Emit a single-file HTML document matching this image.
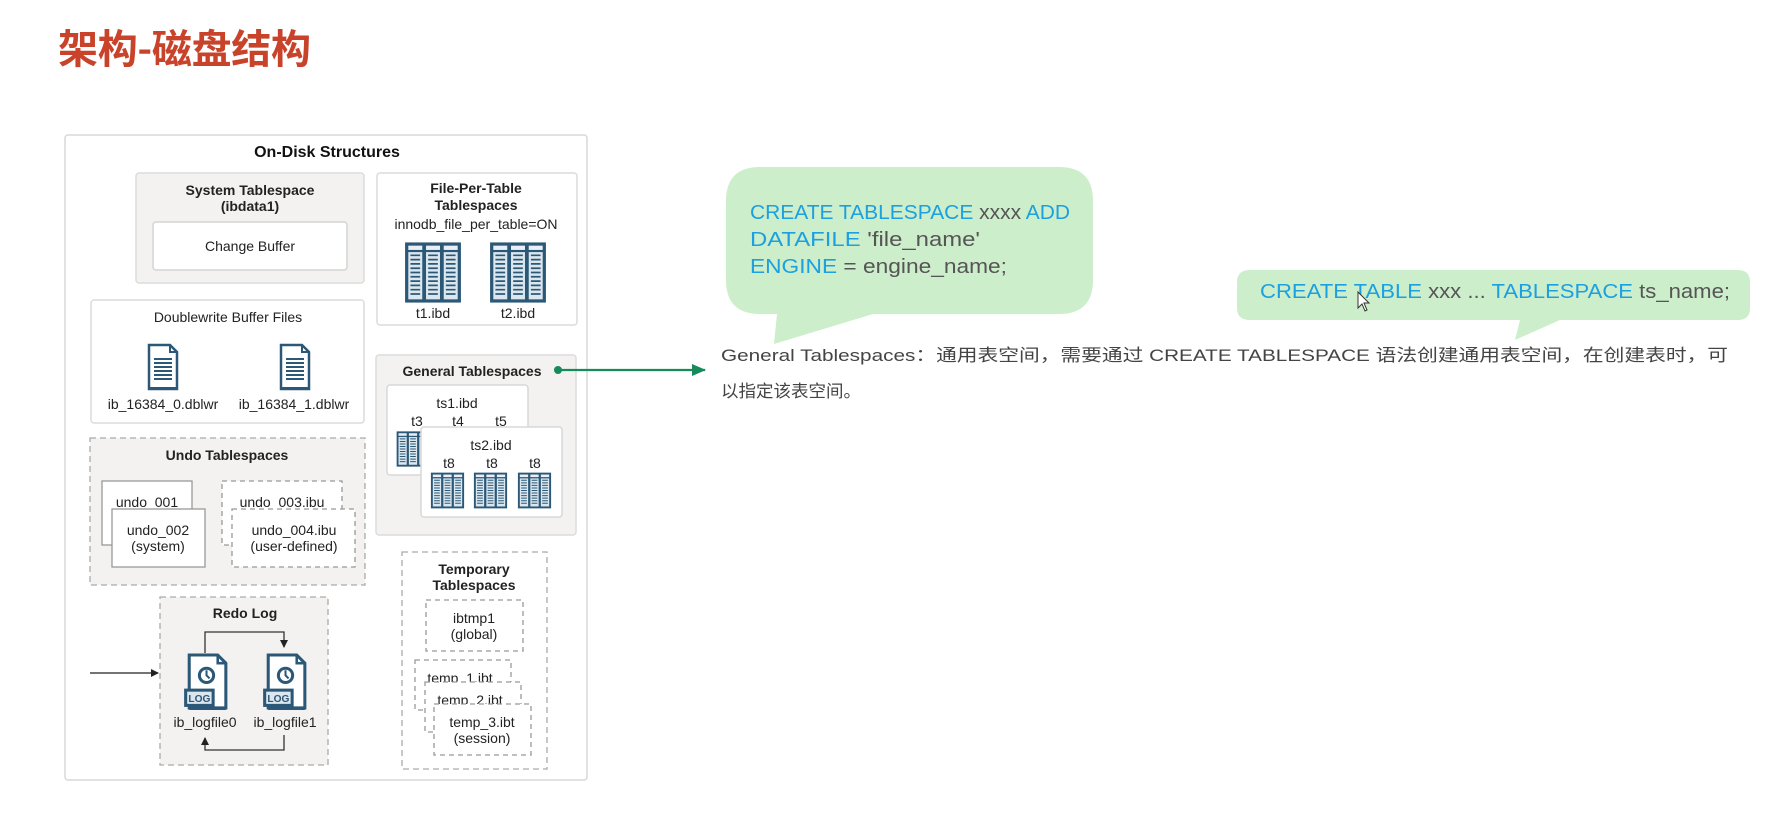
<!DOCTYPE html>
<html><head><meta charset="utf-8">
<style>
html,body{margin:0;padding:0;background:#fff;}
body{width:1768px;height:810px;overflow:hidden;position:relative;}
svg text{font-family:"Liberation Sans","Noto Sans CJK SC",sans-serif;}
</style></head>
<body>
<svg width="1768" height="810" viewBox="0 0 1768 810" xmlns="http://www.w3.org/2000/svg">
<defs>
  <symbol id="tbl" viewBox="0 0 54 58">
    <rect x="1" y="1" width="52" height="56" fill="#2b5877"/>
    <g fill="#e9eff4">
      <rect x="4" y="4" width="13" height="4"/><rect x="20.5" y="4" width="13" height="4"/><rect x="37" y="4" width="13" height="4"/>
    </g>
    <g fill="#dbe6ee">
      <rect x="4" y="10" width="13" height="44"/><rect x="20.5" y="10" width="13" height="44"/><rect x="37" y="10" width="13" height="44"/>
    </g>
    <g stroke="#2b5877" stroke-width="1.6">
      <path d="M6 13H15M6 17H15M6 21H15M6 25H15M6 29H15M6 33H15M6 37H15M6 41H15M6 45H15M6 49H15"/>
      <path d="M22.5 13H31.5M22.5 17H31.5M22.5 21H31.5M22.5 25H31.5M22.5 29H31.5M22.5 33H31.5M22.5 37H31.5M22.5 41H31.5M22.5 45H31.5M22.5 49H31.5"/>
      <path d="M39 13H48M39 17H48M39 21H48M39 25H48M39 29H48M39 33H48M39 37H48M39 41H48M39 45H48M39 49H48"/>
    </g>
  </symbol>
  <symbol id="doc" viewBox="0 0 32 48">
    <path d="M2 2H23L30 9V46H2Z" fill="#fff" stroke="#2b5877" stroke-width="2.5"/>
    <path d="M23 2V9H30" fill="none" stroke="#2b5877" stroke-width="2"/>
    <g stroke="#2b5877" stroke-width="2"><path d="M7 16H25M7 20H25M7 24H25M7 28H25M7 32H25M7 36H25"/></g>
    <rect x="2" y="44" width="28" height="3" fill="#2b5877"/>
  </symbol>
  <symbol id="log" viewBox="0 0 44 57">
    <path d="M6 2H34L42 10V54H6Z" fill="#fff" stroke="#2b5877" stroke-width="3"/>
    <path d="M34 2V10H42" fill="none" stroke="#2b5877" stroke-width="2.5"/>
    <circle cx="23" cy="22" r="7" fill="none" stroke="#2b5877" stroke-width="3"/>
    <path d="M23 17V22L26 25" stroke="#2b5877" stroke-width="2" fill="none"/>
    <rect x="1" y="35" width="30" height="18" fill="#2b5877"/>
    <rect x="4" y="38" width="24" height="12" fill="#dbe6ee"/>
    <text x="16" y="48" font-size="10" font-weight="bold" fill="#2b5877" text-anchor="middle">LOG</text>
    <rect x="6" y="53" width="36" height="3" fill="#2b5877"/>
  </symbol>
  <marker id="ah" markerWidth="8" markerHeight="8" refX="7" refY="4" orient="auto" markerUnits="userSpaceOnUse">
    <path d="M0 0L8 4L0 8Z" fill="#222"/>
  </marker>
  <marker id="ahg" markerWidth="14" markerHeight="12" refX="13" refY="6" orient="auto" markerUnits="userSpaceOnUse">
    <path d="M0 0L14 6L0 12Z" fill="#178a5c"/>
  </marker>
</defs>

<!-- Title -->
<text x="58" y="63" font-size="40" font-weight="bold" fill="#c8432a" textLength="253" style="font-family:'Noto Sans CJK SC',sans-serif">架构-磁盘结构</text>

<!-- Outer box -->
<rect x="65" y="135" width="522" height="645" rx="3" fill="#fff" stroke="#d8d8d8" stroke-width="1.5"/>
<text x="327" y="157" font-size="16" font-weight="bold" fill="#111" text-anchor="middle">On-Disk Structures</text>

<g font-size="14" fill="#222" text-anchor="middle">
<rect x="136" y="173" width="228" height="110" rx="3" fill="#f3f2f1" stroke="#dcdcdc" stroke-width="1.5"/>
<text x="250" y="195" font-weight="bold">System Tablespace</text>
<text x="250" y="211" font-weight="bold">(ibdata1)</text>
<rect x="153" y="222" width="194" height="48" rx="3" fill="#fff" stroke="#d4d4d4" stroke-width="1.5"/>
<text x="250" y="251">Change Buffer</text>

<rect x="377" y="173" width="200" height="152" rx="3" fill="#fff" stroke="#dcdcdc" stroke-width="1.5"/>
<text x="476" y="193" font-weight="bold">File-Per-Table</text>
<text x="476" y="210" font-weight="bold">Tablespaces</text>
<text x="476" y="229">innodb_file_per_table=ON</text>
<use href="#tbl" x="404" y="241" width="58" height="63"/>
<use href="#tbl" x="489" y="241" width="58" height="63"/>
<text x="433" y="318">t1.ibd</text>
<text x="518" y="318">t2.ibd</text>

<rect x="91" y="300" width="273" height="123" rx="3" fill="#fff" stroke="#dcdcdc" stroke-width="1.5"/>
<text x="228" y="322">Doublewrite Buffer Files</text>
<use href="#doc" x="147" y="343" width="32" height="48"/>
<use href="#doc" x="279" y="343" width="32" height="48"/>
<text x="163" y="409">ib_16384_0.dblwr</text>
<text x="294" y="409">ib_16384_1.dblwr</text>

<rect x="376" y="355" width="200" height="180" rx="3" fill="#f3f2f1" stroke="#dcdcdc" stroke-width="1.5"/>
<text x="472" y="376" font-weight="bold">General Tablespaces</text>
<rect x="387" y="385" width="141" height="90" rx="3" fill="#fff" stroke="#d8d8d8" stroke-width="1.5"/>
<text x="457" y="408">ts1.ibd</text>
<text x="417" y="426">t3</text><text x="458" y="426">t4</text><text x="501" y="426">t5</text>
<use href="#tbl" x="396" y="430" width="34" height="38"/>
<rect x="421" y="427" width="141" height="90" rx="3" fill="#fff" stroke="#d8d8d8" stroke-width="1.5"/>
<text x="491" y="450">ts2.ibd</text>
<text x="449" y="468">t8</text><text x="492" y="468">t8</text><text x="535" y="468">t8</text>
<use href="#tbl" x="429" y="472" width="37" height="37"/>
<use href="#tbl" x="472" y="472" width="37" height="37"/>
<use href="#tbl" x="516" y="472" width="37" height="37"/>

<rect x="90" y="438" width="275" height="147" fill="#f3f2f1" stroke="#aaa" stroke-width="1.3" stroke-dasharray="6 4"/>
<text x="227" y="460" font-weight="bold">Undo Tablespaces</text>
<rect x="102" y="481" width="90" height="64" fill="#fff" stroke="#999" stroke-width="1.3"/>
<text x="147" y="507" >undo_001</text>
<rect x="112" y="509" width="93" height="58" fill="#fff" stroke="#999" stroke-width="1.3"/>
<text x="158" y="535">undo_002</text>
<text x="158" y="551">(system)</text>
<rect x="222" y="481" width="120" height="64" fill="#fff" stroke="#999" stroke-width="1.3" stroke-dasharray="5 4"/>
<text x="282" y="507">undo_003.ibu</text>
<rect x="232" y="509" width="123" height="58" fill="#fff" stroke="#999" stroke-width="1.3" stroke-dasharray="5 4"/>
<text x="294" y="535">undo_004.ibu</text>
<text x="294" y="551">(user-defined)</text>

<rect x="160" y="597" width="168" height="168" fill="#f3f2f1" stroke="#aaa" stroke-width="1.3" stroke-dasharray="6 4"/>
<text x="245" y="618" font-weight="bold">Redo Log</text>
<use href="#log" x="183" y="653" width="45" height="58"/>
<use href="#log" x="262" y="653" width="45" height="58"/>
<text x="205" y="727">ib_logfile0</text>
<text x="285" y="727">ib_logfile1</text>
<path d="M205 653V632H284V647" fill="none" stroke="#333" stroke-width="1.3" marker-end="url(#ah)"/>
<path d="M284 735V750H205V738" fill="none" stroke="#333" stroke-width="1.3" marker-end="url(#ah)"/>
<path d="M90 673H158" stroke="#222" stroke-width="1.3" marker-end="url(#ah)"/>

<rect x="402" y="552" width="145" height="217" fill="#fff" stroke="#aaa" stroke-width="1.3" stroke-dasharray="6 4"/>
<text x="474" y="574" font-weight="bold">Temporary</text>
<text x="474" y="590" font-weight="bold">Tablespaces</text>
<rect x="426" y="600" width="97" height="51" fill="#fff" stroke="#999" stroke-width="1.3" stroke-dasharray="5 4"/>
<text x="474" y="623">ibtmp1</text>
<text x="474" y="639">(global)</text>
<rect x="415" y="660" width="96" height="50" fill="#fff" stroke="#999" stroke-width="1.3" stroke-dasharray="5 4"/>
<text x="460" y="683">temp_1.ibt</text>
<rect x="425" y="682" width="96" height="50" fill="#fff" stroke="#999" stroke-width="1.3" stroke-dasharray="5 4"/>
<text x="470" y="705">temp_2.ibt</text>
<rect x="434" y="704" width="97" height="51" fill="#fff" stroke="#999" stroke-width="1.3" stroke-dasharray="5 4"/>
<text x="482" y="727">temp_3.ibt</text>
<text x="482" y="743">(session)</text>
</g>

<circle cx="558" cy="370" r="4" fill="#178a5c"/>
<path d="M558 370H705" stroke="#178a5c" stroke-width="2.2" marker-end="url(#ahg)"/>

<!-- Bubble 1 -->
<path d="M760 167H1059Q1093 167 1093 201V280Q1093 314 1059 314H873L774 344L777 314H760Q726 314 726 280V201Q726 167 760 167Z" fill="#cdeecb"/>
<g font-size="20">
<text x="750" y="219" textLength="320" lengthAdjust="spacingAndGlyphs"><tspan fill="#1ca0e0">CREATE TABLESPACE</tspan><tspan fill="#555"> xxxx  </tspan><tspan fill="#1ca0e0">ADD</tspan></text>
<text x="750" y="246" textLength="230" lengthAdjust="spacingAndGlyphs"><tspan fill="#1ca0e0">DATAFILE</tspan><tspan fill="#555">  'file_name'</tspan></text>
<text x="750" y="273" textLength="257" lengthAdjust="spacingAndGlyphs"><tspan fill="#1ca0e0">ENGINE</tspan><tspan fill="#555"> = engine_name;</tspan></text>
</g>

<!-- Bubble 2 -->
<path d="M1250 270H1738Q1750 270 1750 282V308Q1750 320 1738 320H1560L1515 340L1520 320H1250Q1237 320 1237 308V282Q1237 270 1250 270Z" fill="#cdeecb"/>
<text x="1260" y="298" font-size="20" textLength="470" lengthAdjust="spacingAndGlyphs"><tspan fill="#1ca0e0">CREATE  TABLE</tspan><tspan fill="#555">  xxx ...  </tspan><tspan fill="#1ca0e0">TABLESPACE</tspan><tspan fill="#555">  ts_name;</tspan></text>

<path d="M1358 292V308L1362 304L1365 311L1367 310L1364 303L1369 303Z" fill="#fff" stroke="#333" stroke-width="1"/>

<g font-size="17" fill="#444">
<text x="721" y="361" textLength="1007" lengthAdjust="spacingAndGlyphs">General Tablespaces：通用表空间，需要通过 CREATE  TABLESPACE 语法创建通用表空间，在创建表时，可</text>
<text x="721" y="397" textLength="140" lengthAdjust="spacingAndGlyphs">以指定该表空间。</text>
</g>
</svg>
</body></html>
